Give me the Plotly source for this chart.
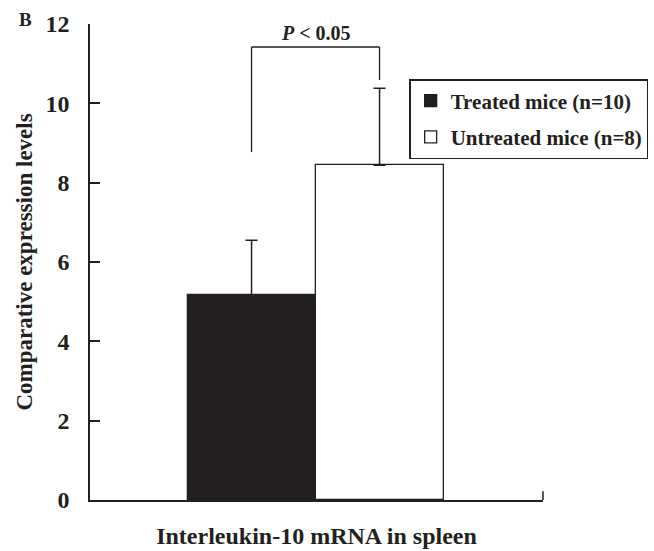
import plotly.graph_objects as go

# ---- data ----
groups = ["Treated mice (n=10)", "Untreated mice (n=8)"]
x_pos = [1, 2]
means = [5.17, 8.44]
errors = [1.38, 1.94]
bar_colors = ["#231f20", "#ffffff"]
y_ticks = [0, 2, 4, 6, 8, 10, 12]
p_label = "<i>P</i> < 0.05"
x_title = "Interleukin-10 mRNA in spleen"
y_title = "Comparative expression levels"
panel = "B"

INK = "#231f20"
FONT = "Liberation Serif"

fig = go.Figure()
for i, (g, x, m, e, c) in enumerate(zip(groups, x_pos, means, errors, bar_colors)):
    fig.add_trace(go.Bar(
        x=[x], y=[m], name=f"<b>{g}</b>", width=1, legendgroup=f"g{i}",
        marker=dict(color=c, line=dict(color=INK, width=1.3)),
        error_y=dict(type="data", symmetric=False, array=[e], arrayminus=[0],
                     color=INK, thickness=1.5, width=6),
    ))

# significance bracket derived from data
tops = [m + e for m, e in zip(means, errors)]
br_top = max(tops) + 1.04
left_bottom = tops[0] + 2.22
right_bottom = tops[1] + 0.21
line = dict(color=INK, width=1.3)
shapes = [
    dict(type="line", xref="x", yref="y", x0=x_pos[0], x1=x_pos[0], y0=left_bottom, y1=br_top, line=line),
    dict(type="line", xref="x", yref="y", x0=x_pos[0], x1=x_pos[1], y0=br_top, y1=br_top, line=line),
    dict(type="line", xref="x", yref="y", x0=x_pos[1], x1=x_pos[1], y0=br_top, y1=right_bottom, line=line),
    # right-end tick of x axis
    dict(type="line", xref="x domain", yref="y", x0=1, x1=1, y0=0, y1=0.22, line=dict(color=INK, width=1.5)),
]

annotations = [
    dict(text=f"<b>{p_label}</b>", xref="x", yref="y", x=(x_pos[0] + x_pos[1]) / 2, y=br_top,
         yanchor="bottom", yshift=1, showarrow=False, font=dict(family=FONT, size=20, color=INK)),
    dict(text=f"<b>{panel}</b>", xref="paper", yref="paper", x=-0.143, y=1.0, xanchor="center",
         yanchor="middle", yshift=5, showarrow=False, font=dict(family=FONT, size=19, color=INK)),
]

fig.update_layout(
    width=654, height=551,
    margin=dict(l=90, r=111, t=24, b=51, autoexpand=False),
    plot_bgcolor="white", paper_bgcolor="white",
    font=dict(family=FONT, color=INK),
    showlegend=True,
    legend=dict(x=0.705, xanchor="left", y=0.884, yanchor="top",
                bordercolor=INK, borderwidth=1.3, bgcolor="white",
                font=dict(family=FONT, size=21, color=INK),
                tracegroupgap=6, itemwidth=30, traceorder="grouped"),
    bargap=0,
    shapes=shapes,
    annotations=annotations,
    xaxis=dict(range=[-0.262, 3.277], showticklabels=False, ticks="", showgrid=False,
               zeroline=False, showline=True, linecolor=INK, linewidth=1.5,
               title=dict(text=f"<b>{x_title}</b>", standoff=26,
                          font=dict(family=FONT, size=24, color=INK))),
    yaxis=dict(range=[0, 12], tickvals=y_ticks, ticktext=[f"<b>{v}</b>" for v in y_ticks],
               ticks="inside", ticklen=10, tickwidth=1.5, tickcolor=INK,
               showgrid=False, zeroline=False, showline=True, linecolor=INK, linewidth=1.5,
               ticklabelstandoff=14,
               tickfont=dict(family=FONT, size=24, color=INK),
               title=dict(text=f"<b>{y_title}</b>", standoff=6,
                          font=dict(family=FONT, size=23, color=INK))),
)

fig.write_html("out.html")
